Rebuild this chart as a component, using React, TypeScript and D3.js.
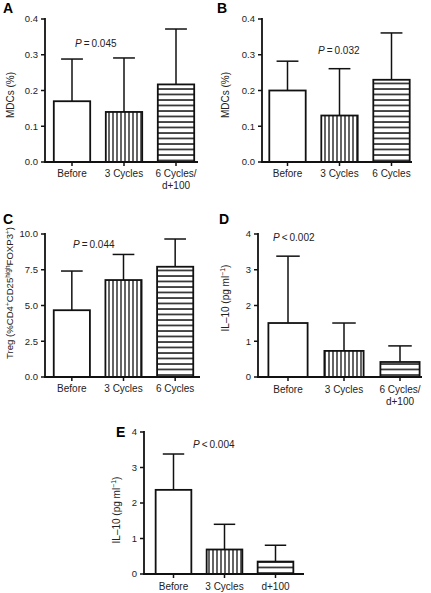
import React from "react";
import * as d3 from "d3";

// ---------- data ----------
const catsA = ["Before", "3 Cycles", "6 Cycles/|d+100"];
const meanA = [0.17, 0.14, 0.217];
const sdA = [0.118, 0.151, 0.155];

const catsB = ["Before", "3 Cycles", "6 Cycles"];
const meanB = [0.2, 0.13, 0.23];
const sdB = [0.082, 0.131, 0.131];

const catsC = ["Before", "3 Cycles", "6 Cycles"];
const meanC = [4.67, 6.78, 7.71];
const sdC = [2.74, 1.79, 1.94];

const catsD = ["Before", "3 Cycles", "6 Cycles/|d+100"];
const meanD = [1.51, 0.73, 0.42];
const sdD = [1.87, 0.78, 0.45];

const catsE = ["Before", "3 Cycles", "d+100"];
const meanE = [2.37, 0.69, 0.35];
const sdE = [1.01, 0.71, 0.46];

const ticksMDC = [0, 0.1, 0.2, 0.3, 0.4];
const ticksTreg = [0, 2.5, 5, 7.5, 10];
const ticksIL = [0, 1, 2, 3, 4];

const pA = "\u2009=\u20090.045";
const pB = "\u2009=\u20090.032";
const pC = "\u2009=\u20090.044";
const pD = "\u2009<\u20090.002";
const pE = "\u2009<\u20090.004";

const FONT = "'Liberation Sans', Arial, Helvetica, sans-serif";
const fills = ["white", "url(#vstripe)", "url(#hstripe)"];

type PanelProps = {
  letter: string;
  letterX: number;
  letterY: number;
  axisX: number;
  yTop: number;
  yBase: number;
  baseEnd: number;
  bandRange: [number, number];
  domainMax: number;
  ticks: number[];
  fmt: string;
  cats: string[];
  means: number[];
  sds: number[];
  pText: string;
  pX: number;
  pY: number;
  yLabel: React.ReactNode;
  yLabelX: number;
  yLabelY: number;
  yLabelSize?: number;
  xLabelDy: number;
};

function Panel(p: PanelProps) {
  const y = d3.scaleLinear().domain([0, p.domainMax]).range([p.yBase, p.yTop]);
  const x = d3
    .scaleBand<string>()
    .domain(p.cats)
    .range(p.bandRange)
    .paddingInner(0.3)
    .paddingOuter(0.15);
  const bw = x.bandwidth();
  const fmt = d3.format(p.fmt);
  const cap = bw * 0.6;
  return (
    <g fontFamily={FONT}>
      <text x={p.letterX} y={p.letterY} fontSize={14} fontWeight="bold">
        {p.letter}
      </text>
      {p.cats.map((c, i) => {
        const x0 = x(c)!;
        const cx = x0 + bw / 2;
        const top = y(p.means[i]);
        const errTop = y(p.means[i] + p.sds[i]);
        return (
          <g key={c}>
            <line x1={cx} x2={cx} y1={top} y2={errTop} stroke="#111" strokeWidth={1.5} />
            <line x1={cx - cap / 2} x2={cx + cap / 2} y1={errTop} y2={errTop} stroke="#111" strokeWidth={1.5} />
            <rect
              x={x0}
              y={top}
              width={bw}
              height={p.yBase - top}
              fill={fills[i]}
              stroke="#111"
              strokeWidth={1.8}
            />
          </g>
        );
      })}
      <line x1={p.axisX} x2={p.axisX} y1={p.yTop - 1} y2={p.yBase} stroke="#111" strokeWidth={1.8} />
      {p.ticks.map((t) => (
        <g key={t}>
          <line x1={p.axisX - 4} x2={p.axisX} y1={y(t)} y2={y(t)} stroke="#111" strokeWidth={1.5} />
          <text x={p.axisX - 7} y={y(t)} dy="0.35em" textAnchor="end" fontSize={9.5} fill="#222">
            {fmt(t)}
          </text>
        </g>
      ))}
      <line x1={p.axisX - 1} x2={p.baseEnd} y1={p.yBase} y2={p.yBase} stroke="#111" strokeWidth={1.8} />
      {p.cats.map((c) => {
        const cx = x(c)! + bw / 2;
        const lines = c.split("|");
        return (
          <g key={"x" + c}>
            <line x1={cx} x2={cx} y1={p.yBase} y2={p.yBase + 4} stroke="#111" strokeWidth={1.5} />
            <text x={cx} y={p.yBase + p.xLabelDy} textAnchor="middle" fontSize={10} fill="#222">
              {lines.map((l, k) => (
                <tspan key={k} x={cx} dy={k === 0 ? 0 : 11.5}>
                  {l}
                </tspan>
              ))}
            </text>
          </g>
        );
      })}
      <text x={p.pX} y={p.pY} fontSize={10} fill="#222">
        <tspan fontStyle="italic">P</tspan>
        {p.pText}
      </text>
      <text
        transform={`translate(${p.yLabelX},${p.yLabelY}) rotate(-90)`}
        textAnchor="middle"
        fontSize={p.yLabelSize ?? 10}
        fill="#222"
      >
        {p.yLabel}
      </text>
    </g>
  );
}

const ilLabel = (
  <>
    IL–10 (pg ml
    <tspan fontSize={7} dy={-4}>
      −1
    </tspan>
    <tspan dy={4}>)</tspan>
  </>
);

const tregLabel = (
  <>
    Treg (%CD4
    <tspan fontSize={6.5} dy={-3.5}>+</tspan>
    <tspan dy={3.5}>CD25</tspan>
    <tspan fontSize={6.5} dy={-3.5}>high</tspan>
    <tspan dy={3.5}>FOXP3</tspan>
    <tspan fontSize={6.5} dy={-3.5}>+</tspan>
    <tspan dy={3.5}>)</tspan>
  </>
);

export default function App() {
  return (
    <svg
      width={431}
      height={593}
      style={{ position: "absolute", left: 0, top: 0, background: "white" }}
    >
      <defs>
        <pattern id="vstripe" patternUnits="userSpaceOnUse" width={4} height={10}>
          <rect width={4} height={10} fill="white" />
          <line x1={1} x2={1} y1={0} y2={10} stroke="#111" strokeWidth={1.3} />
        </pattern>
        <pattern id="hstripe" patternUnits="userSpaceOnUse" width={10} height={5.5}>
          <rect width={10} height={5.5} fill="white" />
          <line x1={0} x2={10} y1={1} y2={1} stroke="#111" strokeWidth={1.5} />
        </pattern>
      </defs>
      <Panel
        letter="A" letterX={3} letterY={13}
        axisX={45} yTop={19} yBase={162} baseEnd={198}
        bandRange={[46, 202]} domainMax={0.4} ticks={ticksMDC} fmt=".1f"
        cats={catsA} means={meanA} sds={sdA}
        pText={pA} pX={75} pY={47}
        yLabel="MDCs (%)" yLabelX={14} yLabelY={95} xLabelDy={15}
      />
      <Panel
        letter="B" letterX={217} letterY={13}
        axisX={262} yTop={19} yBase={162} baseEnd={412}
        bandRange={[261.5, 417.5]} domainMax={0.4} ticks={ticksMDC} fmt=".1f"
        cats={catsB} means={meanB} sds={sdB}
        pText={pB} pX={318} pY={54}
        yLabel="MDCs (%)" yLabelX={229} yLabelY={95} xLabelDy={15}
      />
      <Panel
        letter="C" letterX={3} letterY={224}
        axisX={45} yTop={234} yBase={377} baseEnd={200}
        bandRange={[46, 201]} domainMax={10} ticks={ticksTreg} fmt=".1f"
        cats={catsC} means={meanC} sds={sdC}
        pText={pC} pX={73} pY={248}
        yLabel={tregLabel} yLabelX={13} yLabelY={293} yLabelSize={9.6}
        xLabelDy={15}
      />
      <Panel
        letter="D" letterX={219} letterY={224}
        axisX={258} yTop={234} yBase={377} baseEnd={422}
        bandRange={[260, 428]} domainMax={4} ticks={ticksIL} fmt="d"
        cats={catsD} means={meanD} sds={sdD}
        pText={pD} pX={273} pY={241}
        yLabel={ilLabel} yLabelX={229} yLabelY={298} xLabelDy={16}
      />
      <Panel
        letter="E" letterX={116} letterY={437}
        axisX={144} yTop={432} yBase={574} baseEnd={304}
        bandRange={[148, 301]} domainMax={4} ticks={ticksIL} fmt="d"
        cats={catsE} means={meanE} sds={sdE}
        pText={pE} pX={193} pY={448}
        yLabel={ilLabel} yLabelX={120} yLabelY={510} xLabelDy={16}
      />
    </svg>
  );
}
